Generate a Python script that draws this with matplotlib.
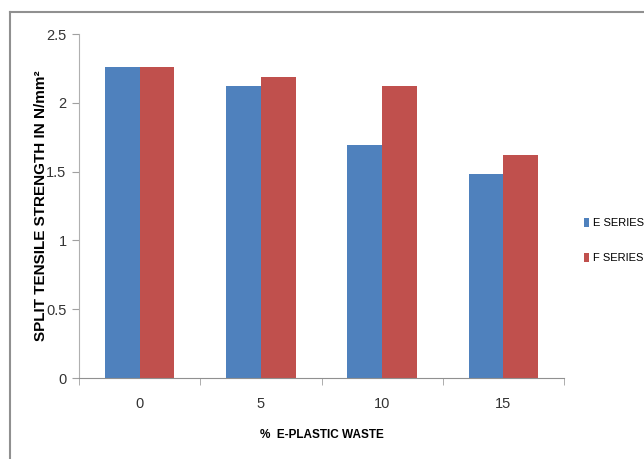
import numpy as np
import matplotlib.pyplot as plt
from matplotlib.lines import Line2D

# data
categories = ["0", "5", "10", "15"]
e_series = [2.26, 2.12, 1.69, 1.48]
f_series = [2.26, 2.19, 2.12, 1.62]

plt.rcParams['font.family'] = ['Liberation Sans', 'DejaVu Sans']

fig = plt.figure(figsize=(6.44, 4.59), dpi=100)
ax = fig.add_axes([79/644, 1-378/459, (564-79)/644, (378-34)/459])

x = np.arange(len(categories))
w = 0.287
ax.bar(x - w/2, e_series, w, color="#4f81bd", label="E SERIES")
ax.bar(x + w/2, f_series, w, color="#c0504d", label="F SERIES")

ax.set_xlim(-0.5, len(categories) - 0.5)
ax.set_ylim(0, 2.5)
ax.set_yticks([0, 0.5, 1, 1.5, 2, 2.5])
ax.set_yticklabels(["0", "0.5", "1", "1.5", "2", "2.5"])
ax.set_xticks(x)
ax.set_xticklabels(categories)
ax.set_xticks(np.arange(-0.5, len(categories)), minor=True)
ax.tick_params(axis='x', which='major', length=0, pad=14, labelsize=10.5, colors="#333333")
ax.tick_params(axis='x', which='minor', length=5, color="#a0a0a0")
ax.tick_params(axis='y', length=5, color="#a0a0a0", labelsize=10.5, labelcolor="#333333", pad=4)

for s in ["top", "right"]:
    ax.spines[s].set_visible(False)
ax.spines["left"].set_color("#b0b0b0")
ax.spines["bottom"].set_color("#909090")

ax.set_ylabel("SPLIT TENSILE STRENGTH IN N/mm²", fontsize=11, fontweight="bold", labelpad=-1)
ax.set_xlabel("%  E-PLASTIC WASTE", fontsize=8.5, fontweight="bold", labelpad=13)

ax.legend(loc="center left", bbox_to_anchor=(1.02, 0.40), frameon=False,
          fontsize=8, handlelength=0.5, handleheight=0.9, handletextpad=0.3,
          labelspacing=2.2)

# outer frame lines (left and top only)
fig.add_artist(Line2D([10/644, 10/644], [0, 1-12/459], color="#909090", lw=1.5))
fig.add_artist(Line2D([10/644, 1], [1-12/459, 1-12/459], color="#909090", lw=1.5))

fig.savefig("out.png", dpi=100)
